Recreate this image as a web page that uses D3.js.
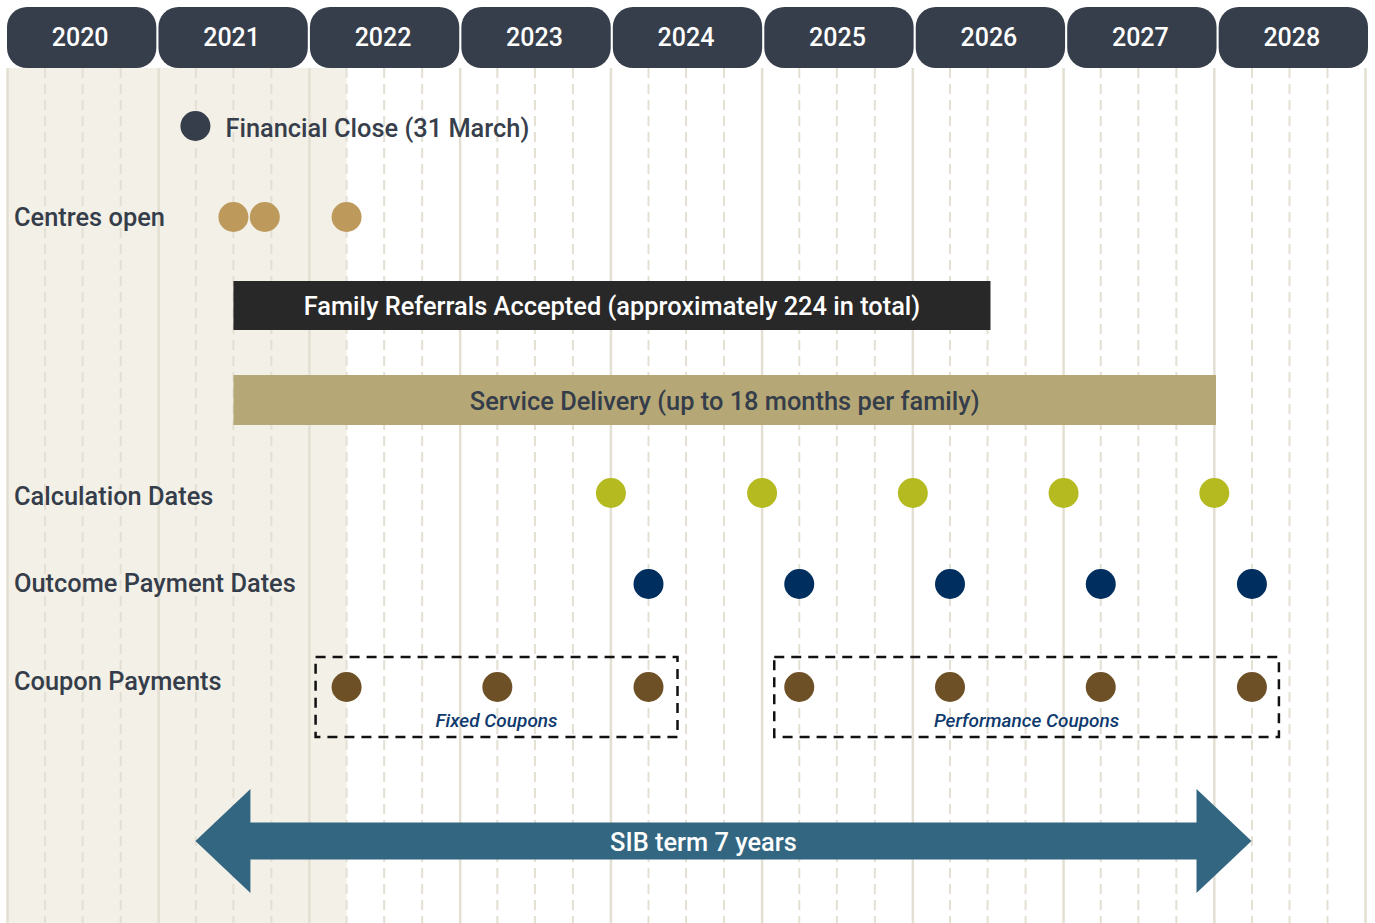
<!DOCTYPE html>
<html>
<head>
<meta charset="utf-8">
<script src="https://cdn.jsdelivr.net/npm/d3@7"></script>
<style>
  html, body { margin: 0; padding: 0; background: #fff; }
  svg { display: block; font-family: Roboto, "Open Sans", sans-serif; }
</style>
</head>
<body>
<svg id="chart" width="1375" height="923"></svg>
<script>
// timeline data
const years = [2020, 2021, 2022, 2023, 2024, 2025, 2026, 2027, 2028];
const financialClose = ['2021-03-31'];
const centresOpen = ['2021-07-01', '2021-09-15', '2022-04-01'];
const referrals = ['2021-07-01', '2026-07-08'];
const serviceDelivery = ['2021-07-01', '2028-01-05'];
const calculationDates = ['2024-01-01', '2025-01-01', '2026-01-01', '2027-01-01', '2028-01-01'];
const outcomeDates = ['2024-04-01', '2025-04-01', '2026-04-01', '2027-04-01', '2028-04-01'];
const fixedCoupons = ['2022-04-01', '2023-04-01', '2024-04-01'];
const performanceCoupons = ['2025-04-01', '2026-04-01', '2027-04-01', '2028-04-01'];
const sibTerm = ['2021-03-31', '2028-03-31'];
const shadedPeriod = ['2020-01-01', '2022-04-01'];
const rowLabels = ['Centres open', 'Calculation Dates', 'Outcome Payment Dates', 'Coupon Payments'];

const W = 1375, H = 923;
const parse = d3.utcParse('%Y-%m-%d');
const svg = d3.select('#chart');

const x = d3.scaleUtc()
  .domain([Date.UTC(2020, 0, 1), Date.UTC(2029, 0, 1)])
  .range([7.5, 1365.5]);
const xd = s => x(parse(s));

// header pills sit on their own band scale
const band = d3.scaleBand()
  .domain(years)
  .range([7, 1368])
  .paddingInner(0.014)
  .paddingOuter(0);

const gridTop = 68;
const fontSize = 25.4;

// row positions
const rowY = {
  'Financial Close': 126,
  'Centres open': 217,
  'Referrals': 305.5,
  'Service': 400,
  'Calculation Dates': 493,
  'Outcome Payment Dates': 584,
  'Coupon Payments': 687,
  'SIB': 841
};
const labelY = {
  'Centres open': 217,
  'Calculation Dates': 496,
  'Outcome Payment Dates': 583,
  'Coupon Payments': 681
};

// shaded history
svg.append('rect')
  .attr('x', xd(shadedPeriod[0]))
  .attr('y', gridTop)
  .attr('width', xd(shadedPeriod[1]) - xd(shadedPeriod[0]))
  .attr('height', H - gridTop)
  .attr('fill', '#f3f0e7');

// quarter grid (dashed) and year grid (solid)
const quarters = d3.utcMonth.every(3).range(x.domain()[0], x.domain()[1])
  .filter(d => d.getUTCMonth() !== 0);
svg.append('g').selectAll('line')
  .data(quarters)
  .join('line')
  .attr('x1', d => x(d)).attr('x2', d => x(d))
  .attr('y1', gridTop).attr('y2', H)
  .attr('stroke', '#e3dfd2')
  .attr('stroke-width', 2)
  .attr('stroke-dasharray', '10,6');

const yearTicks = d3.utcYear.range(x.domain()[0], d3.utcYear.offset(x.domain()[1], 1));
svg.append('g').selectAll('line')
  .data(yearTicks)
  .join('line')
  .attr('x1', d => x(d)).attr('x2', d => x(d))
  .attr('y1', gridTop).attr('y2', H)
  .attr('stroke', '#e3dfd2')
  .attr('stroke-width', 2.5);

// year pills
const pills = svg.append('g').selectAll('g')
  .data(years)
  .join('g');
pills.append('rect')
  .attr('x', d => band(d))
  .attr('y', 7)
  .attr('width', band.bandwidth())
  .attr('height', 61)
  .attr('rx', 20)
  .attr('fill', '#373e4b');
pills.append('text')
  .attr('x', d => band(d) + band.bandwidth() / 2 - 1.5)
  .attr('y', 37.5)
  .attr('dy', '0.35em')
  .attr('text-anchor', 'middle')
  .attr('fill', '#fff')
  .attr('font-size', 25)
  .attr('font-weight', 500)
  .text(d => d);

// row labels
svg.append('g').selectAll('text')
  .data(rowLabels)
  .join('text')
  .attr('x', 14)
  .attr('y', d => labelY[d])
  .attr('dy', '0.35em')
  .attr('fill', '#353d4a')
  .attr('font-size', fontSize)
  .attr('font-weight', 500)
  .text(d => d);

const r = 15;
function dots(data, y, color) {
  svg.append('g').selectAll('circle')
    .data(data)
    .join('circle')
    .attr('cx', d => xd(d))
    .attr('cy', y)
    .attr('r', r)
    .attr('fill', color);
}

// financial close
dots(financialClose, rowY['Financial Close'], '#373e4b');
svg.append('text')
  .attr('x', xd(financialClose[0]) + 30)
  .attr('y', rowY['Financial Close'] + 2)
  .attr('dy', '0.35em')
  .attr('fill', '#373e4b')
  .attr('font-size', fontSize)
  .attr('font-weight', 500)
  .text('Financial Close (31 March)');

dots(centresOpen, rowY['Centres open'], '#bd9a5c');

// bars
function bar(range, y, h, fill, color, label) {
  const x0 = xd(range[0]), x1 = xd(range[1]);
  svg.append('rect')
    .attr('x', x0).attr('y', y - h / 2)
    .attr('width', x1 - x0).attr('height', h)
    .attr('fill', fill);
  svg.append('text')
    .attr('x', (x0 + x1) / 2)
    .attr('y', y + 1)
    .attr('dy', '0.35em')
    .attr('text-anchor', 'middle')
    .attr('fill', color)
    .attr('font-size', fontSize)
    .attr('font-weight', 500)
    .text(label);
}
bar(referrals, rowY['Referrals'], 49, '#282828', '#fff', 'Family Referrals Accepted (approximately 224 in total)');
bar(serviceDelivery, rowY['Service'], 50, '#b5a876', '#353d4a', 'Service Delivery (up to 18 months per family)');

dots(calculationDates, rowY['Calculation Dates'], '#b4ba20');
dots(outcomeDates, rowY['Outcome Payment Dates'], '#002e5f');

// coupon groups
function couponBox(data, padL, padR, label) {
  const x0 = xd(data[0]) - padL, x1 = xd(data[data.length - 1]) + padR;
  svg.append('rect')
    .attr('x', x0).attr('y', 657)
    .attr('width', x1 - x0).attr('height', 80)
    .attr('fill', 'none')
    .attr('stroke', '#111')
    .attr('stroke-width', 2.5)
    .attr('stroke-dasharray', '10,7');
  dots(data, rowY['Coupon Payments'], '#6e5027');
  svg.append('text')
    .attr('x', (x0 + x1) / 2)
    .attr('y', 720)
    .attr('dy', '0.35em')
    .attr('text-anchor', 'middle')
    .attr('fill', '#0f3a6d')
    .attr('font-size', 19)
    .attr('font-weight', 500)
    .attr('font-style', 'italic')
    .text(label);
}
couponBox(fixedCoupons, 31, 29, 'Fixed Coupons');
couponBox(performanceCoupons, 25, 27, 'Performance Coupons');

// SIB term arrow
const ax0 = xd(sibTerm[0]), ax1 = xd(sibTerm[1]);
const ay = rowY['SIB'], shaft = 18.5, head = 52, headLen = 55;
svg.append('path')
  .attr('d', d3.line()([
    [ax0, ay], [ax0 + headLen, ay - head], [ax0 + headLen, ay - shaft],
    [ax1 - headLen, ay - shaft], [ax1 - headLen, ay - head], [ax1, ay],
    [ax1 - headLen, ay + head], [ax1 - headLen, ay + shaft],
    [ax0 + headLen, ay + shaft], [ax0 + headLen, ay + head]
  ]) + 'Z')
  .attr('fill', '#336681');
svg.append('text')
  .attr('x', (ax0 + ax1) / 2 - 20)
  .attr('y', ay + 1)
  .attr('dy', '0.35em')
  .attr('text-anchor', 'middle')
  .attr('fill', '#fff')
  .attr('font-size', fontSize)
  .attr('font-weight', 500)
  .text('SIB term 7 years');
</script>
</body>
</html>
